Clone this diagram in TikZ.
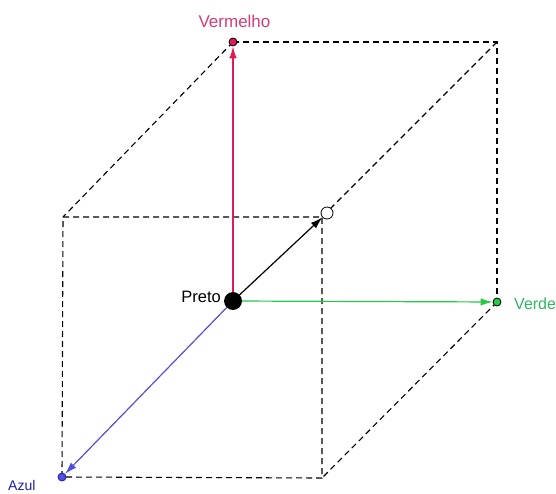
\documentclass[tikz,border=0pt]{standalone}
\usepackage{fontspec}
\setmainfont{Liberation Sans}
\usetikzlibrary{arrows.meta,backgrounds}
\definecolor{vred}{RGB}{225,25,85}
\definecolor{vredtext}{RGB}{210,60,120}
\definecolor{vgreen}{RGB}{40,200,70}
\definecolor{vgreentext}{RGB}{50,180,100}
\definecolor{vblue}{RGB}{80,80,220}
\definecolor{vbluetext}{RGB}{30,30,160}
\begin{document}
\begin{tikzpicture}[x=1pt,y=-1pt,
  edge/.style={dash pattern=on 6pt off 4pt, line width=1.1pt, black},
  vec/.style={line width=1.2pt, -{Latex[length=12pt,width=7.5pt]}},
  dot/.style={circle, draw=black, line width=0.8pt, inner sep=0pt, minimum size=#1},
  lbl/.style={inner sep=0pt}]
\useasboundingbox (0,0) rectangle (556,494);
\node[dot=17pt, fill=black] (O) at (233,301) {};
\node[dot=8pt, fill=vred] (R) at (233,42) {};
\node[dot=8pt, fill=vgreen] (G) at (497,302) {};
\node[dot=8pt, fill=vblue, draw=vbluetext] (B) at (62,477) {};
\node[dot=12pt, fill=white] (W) at (327,213) {};
\coordinate (BR) at (497,42);
\coordinate (FTL) at (63,217);
\coordinate (FTR) at (322,217);
\coordinate (FBR) at (322,478);
\begin{scope}[on background layer]
\draw[edge] (R.center) -- (BR) -- (G.center);
\draw[edge] (R.center) -- (FTL);
\draw[edge] (BR) -- (FTR);
\draw[edge] (G.center) -- (FBR);
\draw[edge] (FTL) -- (FTR) -- (FBR) -- (B.center) -- cycle;
\end{scope}
\draw[vec, vred] (O) -- (R);
\draw[vec, vgreen] (O) -- (G);
\draw[vec, vblue] (O) -- (B);
\draw[vec, black] (O) -- (W);
\node[lbl, text=vredtext, anchor=base, font=\fontsize{17}{20}\selectfont] (tR) at (234.5,28) {Vermelho};
\node[lbl, text=black, anchor=base east, font=\fontsize{16.5}{20}\selectfont] (tO) at (221,302) {Preto};
\node[lbl, text=vgreentext, anchor=base west, font=\fontsize{16}{20}\selectfont] (tG) at (514,309) {Verde};
\node[lbl, text=vbluetext, anchor=base west, font=\fontsize{14}{16}\selectfont] (tB) at (8,490) {Azul};
\end{tikzpicture}
\end{document}
